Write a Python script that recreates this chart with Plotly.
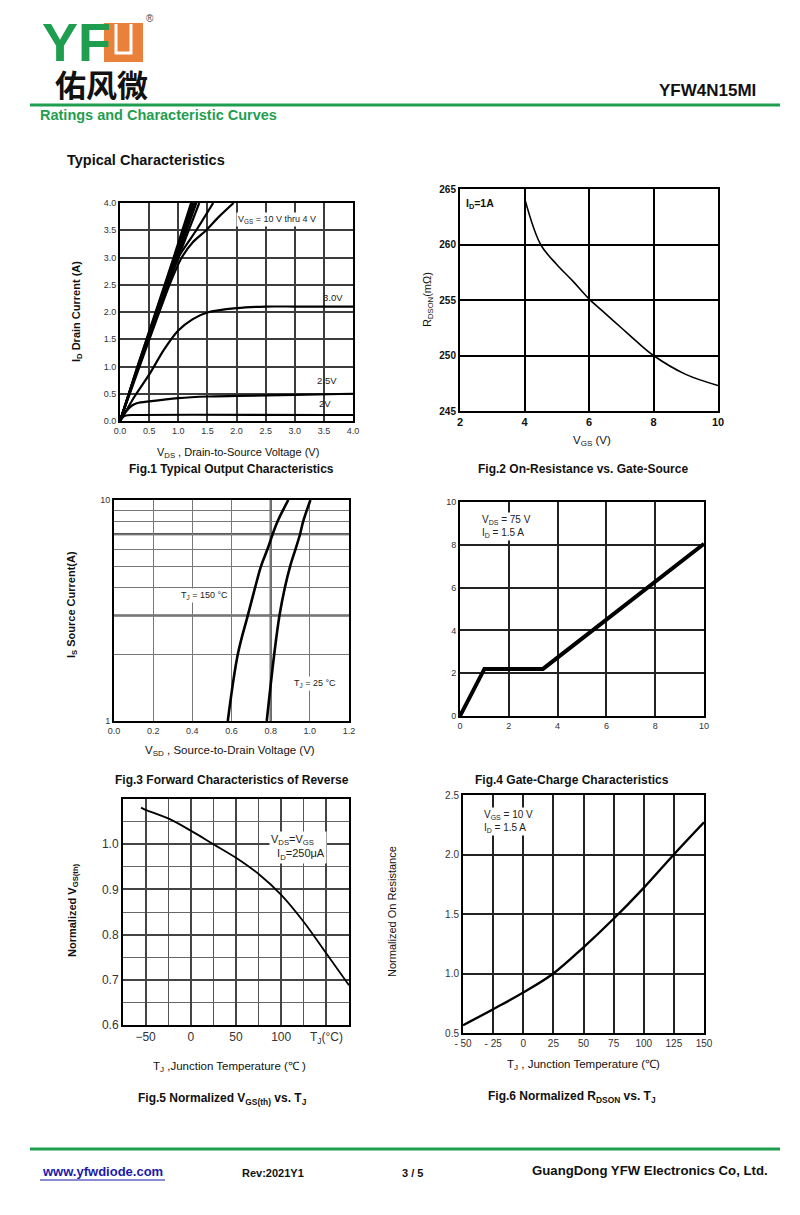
import plotly.graph_objects as go

W, H = 800, 1215
FONT = "Liberation Sans, Arial, sans-serif"
GREEN = "#1f9e50"
ORANGE = "#e9813a"

# ---------------- Fig.1 Typical Output Characteristics ----------------
f1_vds_10v = [0, 0.30, 0.61, 0.92, 1.22]
f1_id_10v = [0, 1.0, 2.0, 3.0, 4.0]
f1_vds_9v = [0, 0.30, 0.62, 0.94, 1.25]
f1_id_9v = [0, 1.0, 2.0, 3.0, 4.0]
f1_vds_8v = [0, 0.31, 0.63, 0.96, 1.28]
f1_id_8v = [0, 1.0, 2.0, 3.0, 4.0]
f1_vds_7v = [0, 0.31, 0.64, 0.98, 1.31]
f1_id_7v = [0, 1.0, 2.0, 3.0, 4.0]
f1_vds_6v = [0, 0.32, 0.66, 1.00, 1.36]
f1_id_6v = [0, 1.0, 2.0, 3.0, 4.0]
f1_vds_5v = [0, 0.40, 0.82, 1.00, 1.31, 1.60]
f1_id_5v = [0, 1.25, 2.5, 3.0, 3.5, 4.0]
f1_vds_4v = [0, 0.42, 0.85, 1.06, 1.25, 1.48, 1.70, 1.95]
f1_id_4v = [0, 1.25, 2.5, 3.0, 3.28, 3.5, 3.75, 4.0]
f1_vds_3v = [0, 0.1, 0.25, 0.5, 0.75, 1.0, 1.25, 1.5, 2.0, 2.5, 3.0, 4.0]
f1_id_3v = [0, 0.18, 0.45, 0.85, 1.30, 1.66, 1.87, 1.99, 2.07, 2.10, 2.10, 2.10]
f1_vds_25v = [0, 0.1, 0.2, 0.3, 0.5, 1.0, 1.5, 2.0, 3.0, 4.0]
f1_id_25v = [0, 0.17, 0.28, 0.33, 0.36, 0.42, 0.45, 0.46, 0.48, 0.50]
f1_vds_2v = [0, 0.05, 0.1, 0.2, 4.0]
f1_id_2v = [0, 0.07, 0.10, 0.11, 0.11]
f1_ticks = [0, 0.5, 1.0, 1.5, 2.0, 2.5, 3.0, 3.5, 4.0]

# ---------------- Fig.2 On-Resistance vs Gate-Source ----------------
f2_vgs = [4.0, 4.5, 5.0, 5.5, 6.0, 6.5, 7.0, 7.5, 8.0, 9.0, 10.0]
f2_rdson = [264.2, 260.0, 258.2, 256.7, 255.1, 253.8, 252.5, 251.2, 250.0, 248.3, 247.3]
f2_xticks = [2, 4, 6, 8, 10]
f2_yticks = [245, 250, 255, 260, 265]

# ---------------- Fig.3 Forward Characteristics of Reverse ----------------
f3_is = [1, 2, 3, 4, 5, 6, 7, 8, 10]
f3_vsd_150 = [0.581, 0.632, 0.683, 0.720, 0.750, 0.784, 0.810, 0.835, 0.890]
f3_vsd_25 = [0.780, 0.818, 0.845, 0.872, 0.899, 0.927, 0.950, 0.966, 1.003]
f3_xticks = [0.0, 0.2, 0.4, 0.6, 0.8, 1.0, 1.2]
f3_yticks = [1, 2, 3, 4, 5, 6, 7, 8, 9, 10]
f3_ytext = ["1", "", "", "", "", "", "", "", "", "10"]

# ---------------- Fig.4 Gate-Charge ----------------
f4_qg = [0, 1.0, 3.4, 10.0]
f4_vgs = [0, 2.2, 2.2, 8.05]
f4_ticks = [0, 2, 4, 6, 8, 10]

# ---------------- Fig.5 Normalized VGS(th) vs TJ ----------------
f5_tj = [-55, -50, -25, 0, 25, 50, 75, 100, 125, 150, 175]
f5_vth = [1.081, 1.076, 1.057, 1.030, 1.000, 0.970, 0.934, 0.888, 0.828, 0.758, 0.688]
f5_xticks = [-50, 0, 50, 100, 150]
f5_xtext = ["−50", "0", "50", "100", "T<sub>J</sub>(°C)"]
f5_yticks = [0.6, 0.7, 0.8, 0.9, 1.0]
f5_xminor = [-75, -50, -25, 0, 25, 50, 75, 100, 125, 150, 175]
f5_yminor = [0.6, 0.65, 0.7, 0.75, 0.8, 0.85, 0.9, 0.95, 1.0, 1.05, 1.1]

# ---------------- Fig.6 Normalized RDSON vs TJ ----------------
f6_tj = [-50, -25, 0, 25, 50, 75, 100, 125, 150]
f6_r = [0.565, 0.70, 0.84, 1.00, 1.22, 1.46, 1.72, 2.00, 2.27]
f6_xticks = [-50, -25, 0, 25, 50, 75, 100, 125, 150]
f6_xtext = ["- 50", "- 25", "0", "25", "50", "75", "100", "125", "150"]
f6_yticks = [0.5, 1.0, 1.5, 2.0, 2.5]


def px(x):
    return x / W


def py(y):
    return 1 - y / H


fig = go.Figure()

f1_curves = [
    (f1_vds_10v, f1_id_10v), (f1_vds_9v, f1_id_9v), (f1_vds_8v, f1_id_8v),
    (f1_vds_7v, f1_id_7v), (f1_vds_6v, f1_id_6v), (f1_vds_5v, f1_id_5v),
    (f1_vds_4v, f1_id_4v), (f1_vds_3v, f1_id_3v), (f1_vds_25v, f1_id_25v),
    (f1_vds_2v, f1_id_2v),
]
for xs, ys in f1_curves:
    fig.add_trace(go.Scatter(x=xs, y=ys, mode="lines",
                             line=dict(color="black", width=2.2, shape="spline", smoothing=0.6),
                             xaxis="x", yaxis="y"))

fig.add_trace(go.Scatter(x=f2_vgs, y=f2_rdson, mode="lines", line=dict(color="black", width=1.6, shape="spline"),
                         xaxis="x2", yaxis="y2"))

fig.add_trace(go.Scatter(x=f3_vsd_150, y=f3_is, mode="lines", line=dict(color="black", width=2.6, shape="spline"),
                         xaxis="x3", yaxis="y3"))
fig.add_trace(go.Scatter(x=f3_vsd_25, y=f3_is, mode="lines", line=dict(color="black", width=2.6, shape="spline"),
                         xaxis="x3", yaxis="y3"))

fig.add_trace(go.Scatter(x=f4_qg, y=f4_vgs, mode="lines", line=dict(color="black", width=4),
                         xaxis="x4", yaxis="y4"))

fig.add_trace(go.Scatter(x=f5_tj, y=f5_vth, mode="lines", line=dict(color="black", width=1.8, shape="spline"),
                         xaxis="x5", yaxis="y5"))

fig.add_trace(go.Scatter(x=f6_tj, y=f6_r, mode="lines", line=dict(color="black", width=2.4, shape="spline"),
                         xaxis="x6", yaxis="y6"))


def axis(domain, rng, tickvals, ticktext=None, anchor=None, size=9, color="#333", grid="#444", gw=1.5,
         atype="linear", minor=None):
    d = dict(domain=domain, range=rng, tickvals=tickvals, showline=True, mirror=True, linecolor="black",
             linewidth=2, showgrid=True, gridcolor=grid, gridwidth=gw, zeroline=False, ticks="",
             tickfont=dict(family=FONT, size=size, color=color), anchor=anchor, type=atype, fixedrange=True,
             automargin=False)
    if ticktext is not None:
        d["ticktext"] = ticktext
    if minor is not None:
        d["minor"] = minor
    return d


layout = dict(
    width=W, height=H, margin=dict(l=0, r=0, t=0, b=0, pad=0, autoexpand=False),
    plot_bgcolor="white", paper_bgcolor="white",
    showlegend=False, font=dict(family=FONT, color="black"),
    xaxis=axis([px(120), px(353)], [0, 4], f1_ticks, [f"{v:.1f}" for v in f1_ticks], "y", 9, "#333", "#3c3c3c", 1.5),
    yaxis=axis([py(421), py(203)], [0, 4], f1_ticks, [f"{v:.1f}" for v in f1_ticks], "x", 9, "#333", "#3c3c3c", 1.5),
    xaxis2=axis([px(460), px(718)], [2, 10], f2_xticks, [f"<b>{v}</b>" for v in f2_xticks], "y2", 11, "#111", "black", 2),
    yaxis2=axis([py(411), py(189)], [245, 265], f2_yticks, [f"<b>{v}</b>" for v in f2_yticks], "x2", 10, "#111", "black", 2),
    xaxis3=axis([px(114), px(349)], [0, 1.2], f3_xticks, [f"{v:.1f}" for v in f3_xticks], "y3", 9, "#333", "#777", 1),
    yaxis3=axis([py(721), py(500)], [0, 1], f3_yticks, f3_ytext, "x3", 9, "#333", "#777", 1, atype="log"),
    xaxis4=axis([px(460), px(704)], [0, 10], f4_ticks, None, "y4", 9, "#333", "#222", 1.5),
    yaxis4=axis([py(716), py(502)], [0, 10], f4_ticks, None, "x4", 9, "#333", "#222", 1.5),
    xaxis5=axis([px(123), px(349)], [-75, 175], f5_xticks, f5_xtext, "y5", 12, "#333", "#444", 1.5,
                minor=dict(tickvals=f5_xminor, showgrid=True, gridcolor="#555", gridwidth=1.2, ticks="")),
    yaxis5=axis([py(1025), py(799)], [0.6, 1.1], f5_yticks, [f"{v:.1f}" for v in f5_yticks], "x5", 12, "#333", "#444", 1.5,
                minor=dict(tickvals=f5_yminor, showgrid=True, gridcolor="#666", gridwidth=1.2, ticks="")),
    xaxis6=axis([px(463), px(704)], [-50, 150], f6_xticks, f6_xtext, "y6", 10, "#333", "#222", 1.5),
    yaxis6=axis([py(1033), py(795)], [0.5, 2.5], f6_yticks, [f"{v:.1f}" for v in f6_yticks], "x6", 10, "#333", "#222", 1.5),
)
fig.update_layout(**layout)

ann = []


def A(x, y, text, size=11, bold=False, color="black", xanchor="center", angle=0, bg=None, align="center",
      family=FONT, height=None):
    t = f"<b>{text}</b>" if bold else text
    d = dict(x=px(x), y=py(y), xref="paper", yref="paper", text=t, showarrow=False, xanchor=xanchor,
             yanchor="middle", textangle=angle, align=align,
             font=dict(family=family, size=size, color=color))
    if bg:
        d["bgcolor"] = bg
    if height:
        d["height"] = height
    ann.append(d)


# header
A(40, 42, "YF", 54, True, GREEN, "left", family="Liberation Sans Narrow, Liberation Sans, Arial", height=40)
A(150, 18, "®", 10, False, "#444", "center")
A(53, 83, "佑风微", 31, True, "#111", "left", family="Noto Sans CJK SC", height=34)
A(758, 90, "YFW4N15MI", 17, True, "#111", "right")
A(38, 115, "Ratings and Characteristic Curves", 14.5, True, GREEN, "left")
A(65, 160, "Typical Characteristics", 14.5, True, "#111", "left")

# Fig1
A(236, 219, "V<sub>GS</sub> = 10 V thru 4 V", 9, False, "#222", "left", bg="white")
A(345, 298, "3.0V", 9.5, False, "#222", "right")
A(339, 381, "2.5V", 9.5, False, "#222", "right")
A(333, 403, "2V", 9.5, False, "#222", "right")
A(77, 312, "I<sub>D</sub> Drain Current (A)", 11, True, "#111", angle=-90)
A(238, 453, "V<sub>DS</sub> , Drain-to-Source Voltage (V)", 11, False, "#111")
A(232, 469, "Fig.1 Typical Output Characteristics", 12, True, "#111")

# Fig2
A(464, 204, "I<sub>D</sub>=1A", 10.5, True, "#111", "left")
A(428, 300, "R<sub>DSON</sub>(mΩ)", 11, False, "#111", angle=-90)
A(592, 441, "V<sub>GS</sub> (V)", 11.5, False, "#111")
A(583, 469, "Fig.2 On-Resistance vs. Gate-Source", 12, True, "#111")

# Fig3
A(179, 596, "T<sub>J</sub> = 150 °C", 9, False, "#222", "left", bg="white")
A(292, 683, "T<sub>J</sub> = 25 °C", 9, False, "#222", "left", bg="white")
A(72, 605, "I<sub>S</sub> Source Current(A)", 11, True, "#111", angle=-90)
A(230, 751, "V<sub>SD</sub> , Source-to-Drain Voltage (V)", 11.5, False, "#111")
A(232, 780, "Fig.3 Forward Characteristics of Reverse", 12, True, "#111")

# Fig4
A(480, 526, "V<sub>DS</sub> = 75 V<br>I<sub>D</sub> = 1.5 A", 10, False, "#222", "left", bg="white", align="left")
A(572, 780, "Fig.4 Gate-Charge Characteristics", 12, True, "#111")

# Fig5
A(298, 847, "V<sub>DS</sub>=V<sub>GS</sub>   <br>  I<sub>D</sub>=250μA", 11, False, "#222", "center", bg="white", align="left")
A(73, 910, "Normalized V<sub>GS(th)</sub>", 11, True, "#111", angle=-90)
A(230, 1067, "T<sub>J</sub> ,Junction Temperature (℃ )", 11.5, False, "#111")
A(222, 1099, "Fig.5 Normalized V<sub>GS(th)</sub> vs. T<sub>J</sub>", 12, True, "#111")

# Fig6
A(482, 821, "V<sub>GS</sub> = 10 V<br>I<sub>D</sub> = 1.5 A", 10, False, "#222", "left", bg="white", align="left")
A(392, 912, "Normalized On Resistance", 11, False, "#111", angle=-90)
A(583, 1065, "T<sub>J</sub> , Junction Temperature (℃)", 11.5, False, "#111")
A(572, 1097, "Fig.6 Normalized R<sub>DSON</sub> vs. T<sub>J</sub>", 12, True, "#111")

# footer
A(40, 1171, "www.yfwdiode.com", 13, True, "#1a1aa8", "left")
A(240, 1173, "Rev:2021Y1", 11, True, "#111", "left")
A(400, 1173, "3 / 5", 11, True, "#111", "left")
A(770, 1170, "GuangDong YFW Electronics Co, Ltd.", 13.2, True, "#111", "right")

fig.update_layout(annotations=ann)

shapes = [
    dict(type="line", xref="paper", yref="paper", x0=px(30), x1=px(780), y0=py(105), y1=py(105),
         line=dict(color=GREEN, width=3)),
    dict(type="line", xref="paper", yref="paper", x0=px(30), x1=px(780), y0=py(1149), y1=py(1149),
         line=dict(color=GREEN, width=3)),
    dict(type="line", xref="paper", yref="paper", x0=px(40), x1=px(165), y0=py(1180), y1=py(1180),
         line=dict(color="#1a1aa8", width=1.2)),
    dict(type="rect", xref="paper", yref="paper", x0=px(104), x1=px(143), y0=py(62), y1=py(23),
         fillcolor=ORANGE, line=dict(width=0)),
    dict(type="path", xref="paper", yref="paper",
         path=f"M {px(116)} {py(24)} L {px(116)} {py(53)} L {px(131)} {py(53)} L {px(131)} {py(24)}",
         line=dict(color="white", width=3)),
    dict(type="line", xref="x3", yref="y3", x0=0, x1=1.2, y0=3, y1=3, line=dict(color="#222", width=2), layer="below"),
    dict(type="line", xref="x3", yref="y3", x0=0, x1=1.2, y0=7, y1=7, line=dict(color="#222", width=2), layer="below"),
    dict(type="line", xref="x3", yref="y3", x0=0.8, x1=0.8, y0=1, y1=10, line=dict(color="#222", width=2), layer="below"),
]
fig.update_layout(shapes=shapes)

fig.write_html("out.html", config={"displayModeBar": False},
               post_script="document.body.style.margin='0';document.body.style.overflow='hidden';")
